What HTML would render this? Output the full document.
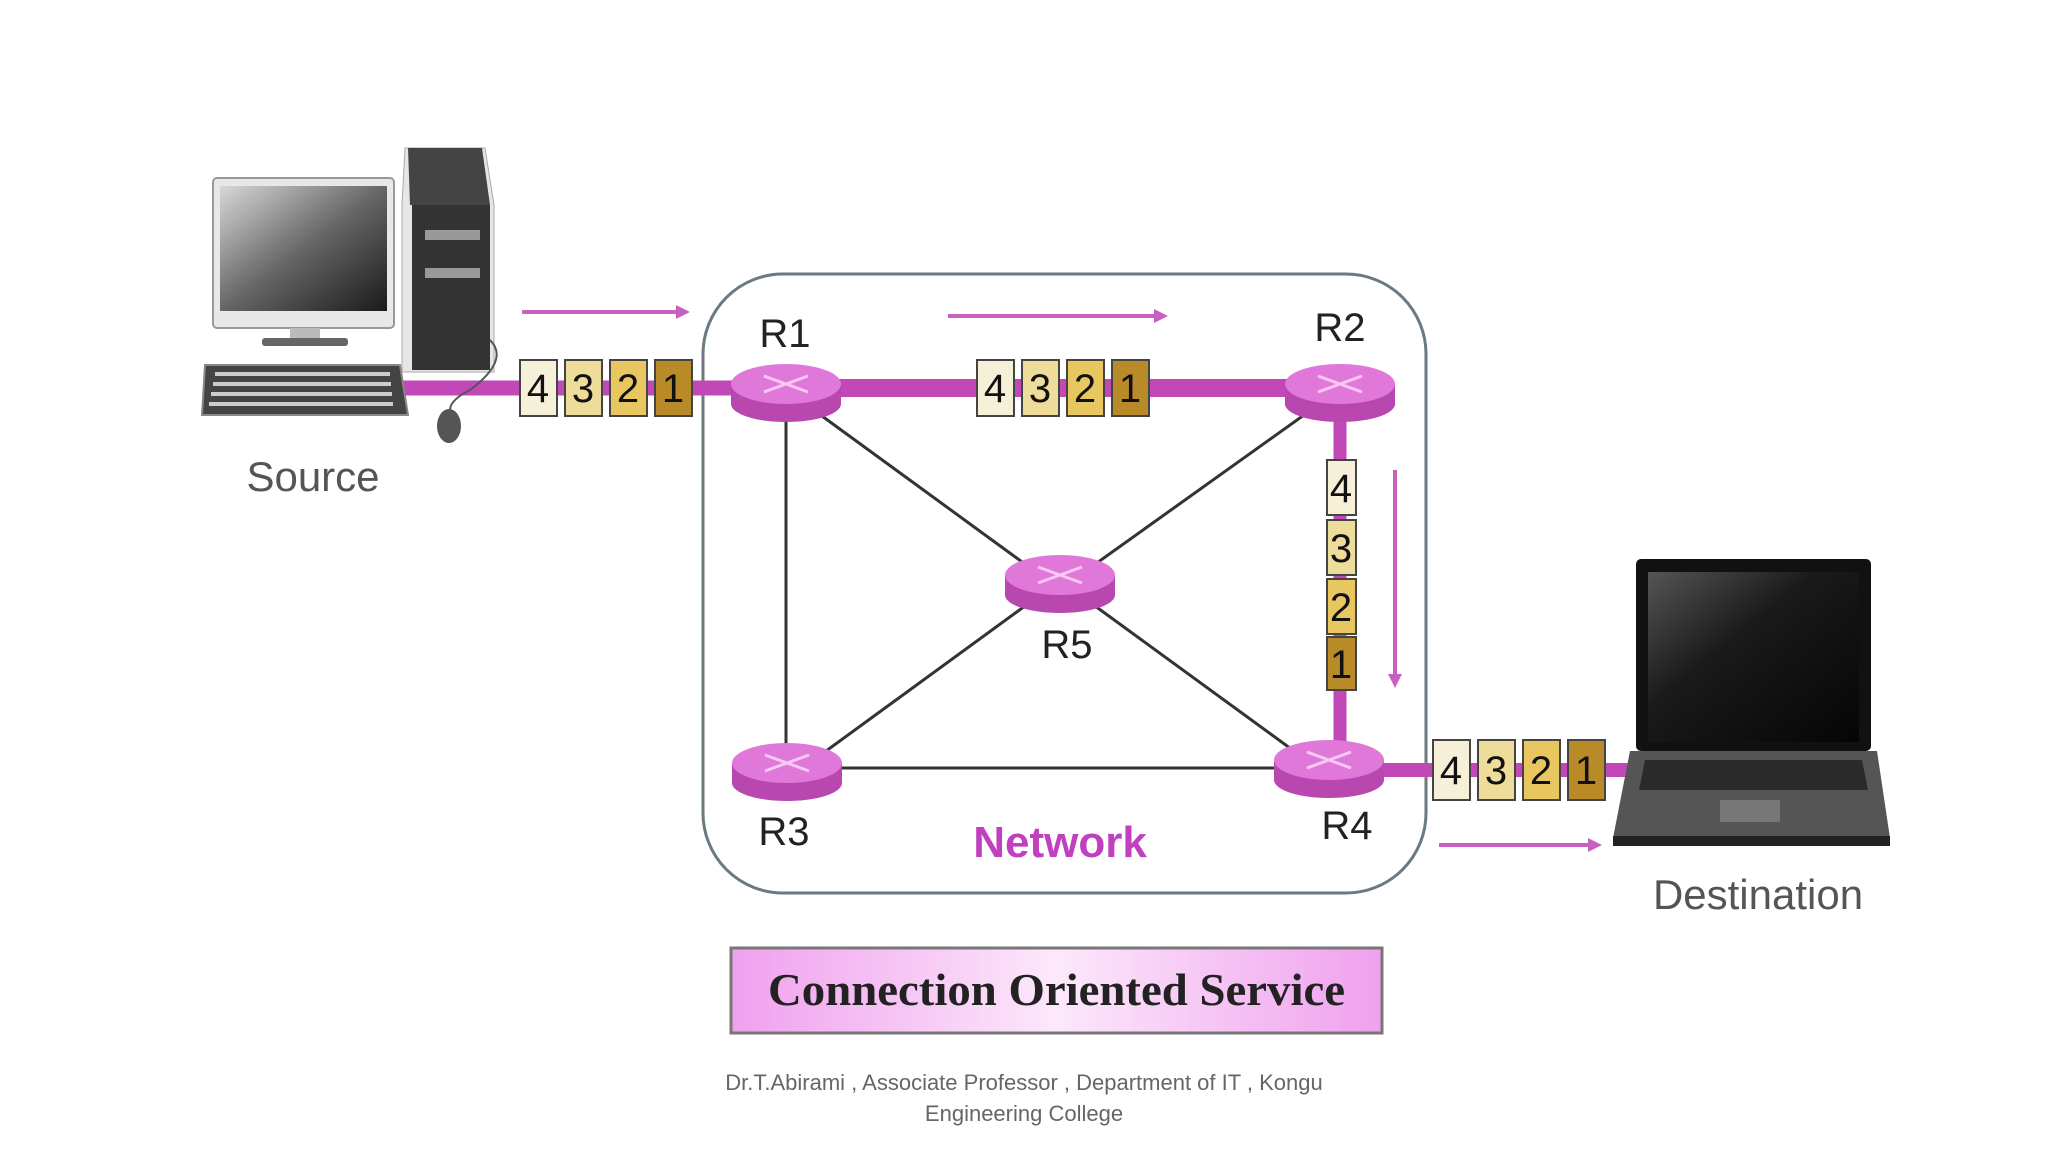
<!DOCTYPE html>
<html><head><meta charset="utf-8"><style>
html,body{margin:0;padding:0;background:#fff;}
svg{display:block;}
</style></head><body>
<svg width="2048" height="1152" viewBox="0 0 2048 1152" xmlns="http://www.w3.org/2000/svg" font-family="Liberation Sans, sans-serif">
<defs>
<linearGradient id="scr" x1="0" y1="0" x2="1" y2="1"><stop offset="0" stop-color="#d8d8d8"/><stop offset="0.5" stop-color="#666"/><stop offset="1" stop-color="#1a1a1a"/></linearGradient>
<linearGradient id="lscr" x1="0" y1="0" x2="1" y2="1"><stop offset="0" stop-color="#555"/><stop offset="0.4" stop-color="#1a1a1a"/><stop offset="1" stop-color="#050505"/></linearGradient>
<linearGradient id="cap" x1="0" y1="0" x2="1" y2="0"><stop offset="0" stop-color="#f0a0ee"/><stop offset="0.5" stop-color="#fce8fb"/><stop offset="1" stop-color="#f0a0ee"/></linearGradient>
<g id="router">
<path d="M-55,-8 L-55,12 A55,18 0 0 0 55,12 L55,-8 Z" fill="#b848b0"/>
<ellipse cx="0" cy="-8" rx="55" ry="20" fill="#e078da"/>
<path d="M-22,-16 L22,0 M22,-16 L-22,0" stroke="#f8c8f4" stroke-width="3"/>
</g>
</defs>

<rect x="703" y="274" width="723" height="619" rx="80" fill="none" stroke="#6a7a80" stroke-width="3"/>

<g stroke="#333" stroke-width="3">
<line x1="786" y1="400" x2="786" y2="760"/>
<line x1="800" y1="400" x2="1040" y2="575"/>
<line x1="1325" y1="400" x2="1080" y2="575"/>
<line x1="800" y1="770" x2="1040" y2="595"/>
<line x1="1080" y1="595" x2="1320" y2="770"/>
<line x1="800" y1="768" x2="1320" y2="768"/>
</g>

<g stroke="#c248b8">
<line x1="398" y1="388" x2="735" y2="388" stroke-width="15"/>
<line x1="790" y1="388" x2="1330" y2="388" stroke-width="18"/>
<line x1="1340" y1="400" x2="1340" y2="750" stroke-width="13"/>
<line x1="1370" y1="770" x2="1640" y2="770" stroke-width="14"/>
</g>

<use href="#router" x="786" y="392"/>
<use href="#router" x="1340" y="392"/>
<use href="#router" x="1060" y="583"/>
<use href="#router" x="787" y="771"/>
<use href="#router" x="1329" y="768"/>

<g font-size="40" fill="#222" text-anchor="middle">
<text x="785" y="347">R1</text>
<text x="1340" y="341">R2</text>
<text x="1067" y="658">R5</text>
<text x="784" y="845">R3</text>
<text x="1347" y="839">R4</text>
</g>
<text x="1060" y="857" font-size="44" font-weight="bold" fill="#c040c0" text-anchor="middle">Network</text>

<g stroke="#c860c0" stroke-width="4" fill="#c860c0">
<line x1="522" y1="312" x2="680" y2="312"/><polygon points="676,305 690,312 676,319" stroke="none"/>
<line x1="948" y1="316" x2="1158" y2="316"/><polygon points="1154,309 1168,316 1154,323" stroke="none"/>
<line x1="1395" y1="470" x2="1395" y2="678"/><polygon points="1388,674 1395,688 1402,674" stroke="none"/>
<line x1="1439" y1="845" x2="1592" y2="845"/><polygon points="1588,838 1602,845 1588,852" stroke="none"/>
</g>

<g font-size="40" fill="#111" text-anchor="middle" stroke-width="2">
<rect x="520" y="360" width="37" height="56" fill="#f7f0d8" stroke="#444"/><text x="538" y="402">4</text>
<rect x="565" y="360" width="37" height="56" fill="#eedc9a" stroke="#444"/><text x="583" y="402">3</text>
<rect x="610" y="360" width="37" height="56" fill="#e8c660" stroke="#444"/><text x="628" y="402">2</text>
<rect x="655" y="360" width="37" height="56" fill="#b88a28" stroke="#444"/><text x="673" y="402">1</text>
<rect x="977" y="360" width="37" height="56" fill="#f7f0d8" stroke="#444"/><text x="995" y="402">4</text>
<rect x="1022" y="360" width="37" height="56" fill="#eedc9a" stroke="#444"/><text x="1040" y="402">3</text>
<rect x="1067" y="360" width="37" height="56" fill="#e8c660" stroke="#444"/><text x="1085" y="402">2</text>
<rect x="1112" y="360" width="37" height="56" fill="#b88a28" stroke="#444"/><text x="1130" y="402">1</text>
<rect x="1327" y="460" width="29" height="55" fill="#f7f0d8" stroke="#444"/><text x="1341" y="502">4</text>
<rect x="1327" y="520" width="29" height="55" fill="#eedc9a" stroke="#444"/><text x="1341" y="562">3</text>
<rect x="1327" y="579" width="29" height="55" fill="#e8c660" stroke="#444"/><text x="1341" y="621">2</text>
<rect x="1327" y="637" width="29" height="53" fill="#b88a28" stroke="#444"/><text x="1341" y="678">1</text>
<rect x="1433" y="740" width="37" height="60" fill="#f7f0d8" stroke="#444"/><text x="1451" y="784">4</text>
<rect x="1478" y="740" width="37" height="60" fill="#eedc9a" stroke="#444"/><text x="1496" y="784">3</text>
<rect x="1523" y="740" width="37" height="60" fill="#e8c660" stroke="#444"/><text x="1541" y="784">2</text>
<rect x="1568" y="740" width="37" height="60" fill="#b88a28" stroke="#444"/><text x="1586" y="784">1</text>
</g>

<rect x="213" y="178" width="181" height="150" rx="4" fill="#e8e8e8" stroke="#999" stroke-width="2"/>
<rect x="220" y="186" width="167" height="125" fill="url(#scr)"/>
<rect x="290" y="328" width="30" height="12" fill="#bbb"/>
<rect x="262" y="338" width="86" height="8" rx="3" fill="#666"/>
<polygon points="405,148 485,148 494,205 494,372 402,372 402,205" fill="#e6e6e6" stroke="#aaa"/>
<polygon points="408,148 482,148 490,205 410,205" fill="#444"/>
<rect x="412" y="205" width="78" height="165" fill="#333"/>
<rect x="425" y="230" width="55" height="10" fill="#999"/>
<rect x="425" y="268" width="55" height="10" fill="#999"/>
<polygon points="205,365 400,365 408,415 202,415" fill="#444" stroke="#888" stroke-width="2"/>
<g fill="#ccc"><rect x="215" y="372" width="175" height="4"/><rect x="213" y="382" width="178" height="4"/><rect x="211" y="392" width="181" height="4"/><rect x="209" y="402" width="184" height="4"/></g>
<path d="M490,340 Q510,360 470,390 Q450,400 450,410" stroke="#555" stroke-width="2" fill="none"/>
<ellipse cx="449" cy="426" rx="12" ry="17" fill="#555"/>
<text x="313" y="491" font-size="42" fill="#555" text-anchor="middle">Source</text>

<rect x="1636" y="559" width="235" height="192" rx="5" fill="#111"/>
<rect x="1648" y="572" width="211" height="170" fill="url(#lscr)"/>
<polygon points="1630,751 1877,751 1890,838 1613,838" fill="#555"/>
<polygon points="1645,760 1862,760 1868,790 1639,790" fill="#2a2a2a"/>
<rect x="1720" y="800" width="60" height="22" fill="#777"/>
<rect x="1613" y="836" width="277" height="10" fill="#222"/>
<text x="1758" y="909" font-size="42" fill="#555" text-anchor="middle">Destination</text>

<rect x="731" y="948" width="651" height="85" fill="url(#cap)" stroke="#777" stroke-width="3"/>
<text x="768" y="1005" font-family="Liberation Serif, serif" font-size="46" font-weight="bold" fill="#222" textLength="577" lengthAdjust="spacingAndGlyphs">Connection Oriented Service</text>

<g font-size="22" fill="#666" text-anchor="middle">
<text x="1024" y="1090">Dr.T.Abirami , Associate Professor , Department of IT , Kongu</text>
<text x="1024" y="1121">Engineering College</text>
</g>
</svg>
</body></html>
